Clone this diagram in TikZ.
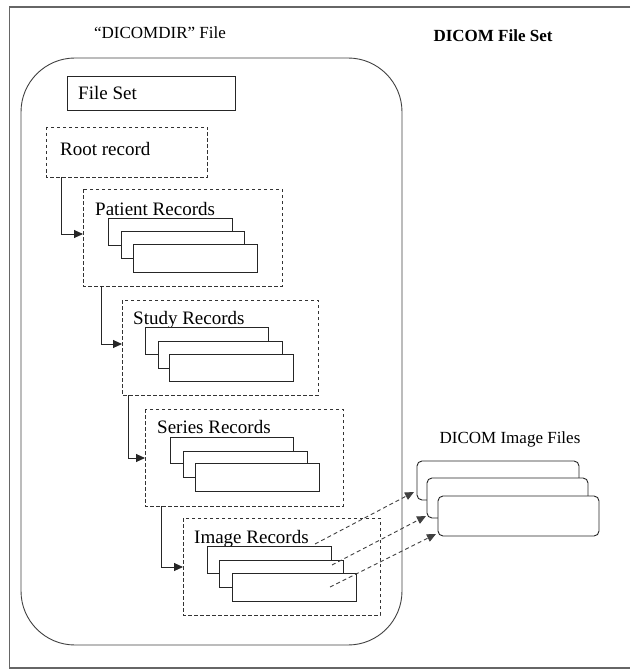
\documentclass[tikz,border=0pt]{standalone}
\usepackage{fontspec}
\setmainfont{Liberation Serif}
\usetikzlibrary{arrows.meta}
\tikzset{
  frameline/.style={draw=black!60, line width=1.6pt},
  bigbox/.style={draw=black!75, line width=0.9pt, rounded corners=54pt},
  solidbox/.style={draw=black!85, line width=0.9pt, fill=white},
  dashbox/.style={draw=black!80, line width=0.8pt, dash pattern=on 3.5pt off 2.5pt},
  recbox/.style={draw=black!85, line width=0.9pt, fill=white},
  filebox/.style={draw=black!85, line width=0.9pt, fill=white, rounded corners=5pt},
  flowarrow/.style={draw=black!85, line width=0.9pt, -{Triangle[length=9pt,width=8pt]}},
  linkarrow/.style={draw=black!75, line width=0.9pt, dash pattern=on 4pt off 3pt, -{Triangle[length=9pt,width=8pt]}},
  lbl/.style={inner sep=0pt, anchor=base west, font=\fontsize{19}{21}\selectfont},
}
\begin{document}
\begin{tikzpicture}[x=1pt,y=-1pt]
\useasboundingbox (0,0) rectangle (630,671);
% outer frame (open on the right)
\draw[frameline] (630,7) -- (9.5,7) -- (9.5,668) -- (630,668);
% titles
\node[inner sep=0pt, anchor=base, font=\fontsize{17}{19}\selectfont] (tdir) at (160,38.5) {``DICOMDIR'' File};
\node[inner sep=0pt, anchor=base, font=\fontsize{17}{19}\selectfont\bfseries] (tset) at (493,42) {DICOM File Set};
% big rounded DICOMDIR box
\draw[bigbox] (21,58) rectangle (402,645);
% File Set
\draw[solidbox] (67,76) rectangle (235,110);
\node[lbl] (fileset) at (78,100) {File Set};
% Root record
\draw[dashbox] (46,127) rectangle (207,177);
\node[lbl] (root) at (60,156) {Root record};
\coordinate (rootb) at (61,177);
% Patient records
\draw[dashbox] (83,189) rectangle (282,286);
\coordinate (patl) at (83,234);
\coordinate (patb) at (101,286);
\node[lbl] (pat) at (95,215) {Patient Records};
\draw[recbox] (108,218) rectangle (232,245);
\draw[recbox] (121,231) rectangle (244,258);
\draw[recbox] (133,244) rectangle (257,272);
% Study records
\draw[dashbox] (122,300) rectangle (318,395);
\coordinate (stul) at (122,344);
\coordinate (stub) at (128,395);
\node[lbl] (stu) at (133,324) {Study Records};
\draw[recbox] (145,327) rectangle (268,354);
\draw[recbox] (158,341) rectangle (282,368);
\draw[recbox] (169,354) rectangle (293,381);
% Series records
\draw[dashbox] (145,409) rectangle (343,506);
\coordinate (serl) at (145,458);
\coordinate (serb) at (161,506);
\node[lbl] (ser) at (157,433) {Series Records};
\draw[recbox] (170,437) rectangle (293,463);
\draw[recbox] (183,451) rectangle (307,477);
\draw[recbox] (195,463) rectangle (319,491);
% Image records
\draw[dashbox] (183,518) rectangle (380,615);
\coordinate (imgl) at (183,567);
\node[lbl] (img) at (194,543) {Image Records};
\draw[recbox] (207,546) rectangle (331,573);
\draw[recbox] (219,560) rectangle (343,587);
\draw[recbox] (232,573) rectangle (356,601);
% flow arrows
\draw[flowarrow] (rootb) |- (patl);
\draw[flowarrow] (patb) |- (stul);
\draw[flowarrow] (stub) |- (serl);
\draw[flowarrow] (serb) |- (imgl);
% DICOM image files
\node[inner sep=0pt, anchor=base, font=\fontsize{17}{19}\selectfont] (dif) at (510,443) {DICOM Image Files};
\draw[filebox] (417,461) rectangle (579,500);
\draw[filebox] (427,478) rectangle (588,518);
\draw[filebox] (438,496) rectangle (599,536);
% dashed links
\coordinate (s1) at (315,544);
\coordinate (s2) at (332,565);
\coordinate (s3) at (330,587);
\coordinate (e1) at (414,492);
\coordinate (e2) at (426,516);
\coordinate (e3) at (436,534);
\draw[linkarrow] (s1) -- (e1);
\draw[linkarrow] (s2) -- (e2);
\draw[linkarrow] (s3) -- (e3);
\end{tikzpicture}
\end{document}
